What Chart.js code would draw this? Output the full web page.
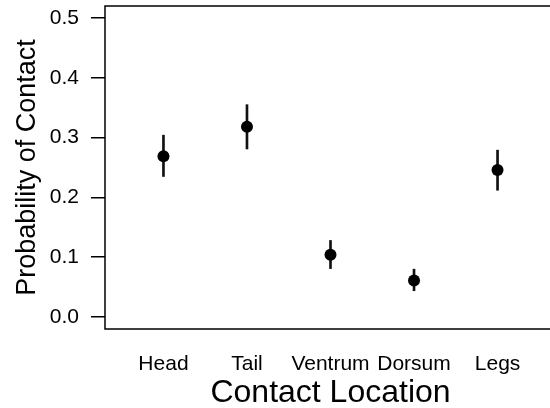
<!DOCTYPE html>
<html>
<head>
<meta charset="utf-8">
<script src="https://cdn.jsdelivr.net/npm/chart.js@4"></script>
<style>
  html, body { margin: 0; padding: 0; background: #fff; overflow: hidden; width: 550px; height: 408px; }
  canvas { display: block; }
</style>
</head>
<body>
<canvas id="c" width="560" height="408"></canvas>
<script>
// Contact probability by body location, with interval bounds
const locations = ['Head', 'Tail', 'Ventrum', 'Dorsum', 'Legs'];
const probability = [0.269, 0.318, 0.104, 0.061, 0.246];
const lower = [0.235, 0.281, 0.081, 0.044, 0.212];
const upper = [0.304, 0.355, 0.128, 0.080, 0.279];
const yTicks = [0.0, 0.1, 0.2, 0.3, 0.4, 0.5];

const FONT = "'Liberation Sans', Arial, Helvetica, sans-serif";

const pointData = probability.map((p, i) => ({ x: i + 1, y: p }));
const rangeData = lower.map((lo, i) => ({ x: i + 1, y: [lo, upper[i]] }));

// Frame around the plotting region and the two axis titles
const framePlugin = {
  id: 'frame',
  afterDraw(chart) {
    const { ctx, chartArea } = chart;
    ctx.save();
    ctx.strokeStyle = '#000';
    ctx.lineWidth = 1.5;
    ctx.strokeRect(chartArea.left, chartArea.top,
                   chartArea.right - chartArea.left, chartArea.bottom - chartArea.top);
    ctx.fillStyle = '#000';
    ctx.font = '32px ' + FONT;
    ctx.textAlign = 'center';
    ctx.textBaseline = 'alphabetic';
    ctx.fillText('Contact Location', (chartArea.left + chartArea.right) / 2, 401.5);
    ctx.translate(35, (chartArea.top + chartArea.bottom) / 2);
    ctx.rotate(-Math.PI / 2);
    ctx.font = '27px ' + FONT;
    ctx.fillText('Probability of Contact', 0, 0);
    ctx.restore();
  }
};

new Chart(document.getElementById('c'), {
  data: {
    datasets: [
      {
        type: 'bar',
        data: rangeData,
        backgroundColor: '#111',
        borderWidth: 0,
        barThickness: 2,
        order: 2
      },
      {
        type: 'scatter',
        data: pointData,
        pointRadius: 6,
        pointBackgroundColor: '#000',
        pointBorderWidth: 0,
        order: 1
      }
    ]
  },
  options: {
    responsive: false,
    animation: false,
    layout: { autoPadding: false, padding: { top: 6, left: 0, right: 4, bottom: 0 } },
    plugins: { legend: { display: false }, tooltip: { enabled: false } },
    scales: {
      x: {
        type: 'linear',
        min: 0.3,
        max: 5.7,
        offset: false,
        afterFit(scale) {
          scale.height = 79;
          scale.paddingLeft = 0; scale.paddingRight = 0;
          scale.paddingTop = 0; scale.paddingBottom = 0;
        },
        afterBuildTicks(scale) { scale.ticks = locations.map((_, i) => ({ value: i + 1 })); },
        grid: { display: false },
        border: { display: false },
        ticks: {
          autoSkip: false,
          maxRotation: 0,
          padding: 15,
          color: '#000',
          font: { family: FONT, size: 21 },
          callback: (v) => locations[Math.round(v) - 1]
        }
      },
      y: {
        type: 'linear',
        min: -0.02,
        max: 0.52,
        afterFit(scale) {
          scale.width = 105;
          scale.paddingLeft = 0; scale.paddingRight = 0;
          scale.paddingTop = 0; scale.paddingBottom = 0;
        },
        afterBuildTicks(scale) { scale.ticks = yTicks.map(v => ({ value: v })); },
        grid: {
          drawOnChartArea: false,
          drawTicks: true,
          tickLength: 14,
          color: '#000',
          lineWidth: 1.5
        },
        border: { display: false },
        ticks: {
          padding: 12,
          color: '#000',
          font: { family: FONT, size: 21 },
          callback: (v) => Number(v).toFixed(1)
        }
      }
    }
  },
  plugins: [framePlugin]
});
</script>
</body>
</html>
